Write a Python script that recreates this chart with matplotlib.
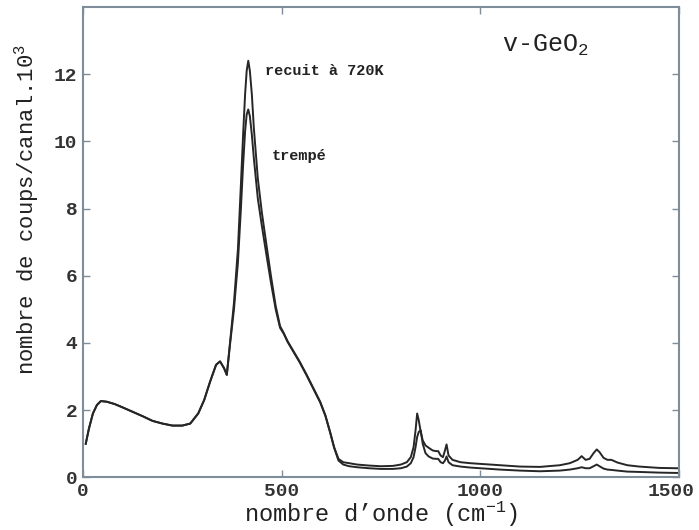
import matplotlib
matplotlib.use("Agg")
import matplotlib.pyplot as plt
from matplotlib.transforms import ScaledTranslation

wavenumber = [7, 15, 25, 35, 45, 60, 80, 100, 125, 150, 175, 200, 225, 250, 270, 290, 305, 320, 335, 345,
              355, 362, 370, 380, 390, 397, 403, 408, 412, 416, 420, 425, 430, 440, 450, 462, 473, 485, 496, 505,
              515, 530, 545, 563, 580, 597, 610, 622, 632, 643, 655, 670, 690, 720, 750, 780, 800, 815, 825, 832,
              837, 841, 845, 850, 855, 862, 870, 880, 888, 894, 900, 906, 911, 915, 920, 930, 950, 975, 1000, 1050,
              1100, 1150, 1200, 1225, 1245, 1255, 1265, 1275, 1285, 1293, 1300, 1310, 1320, 1330, 1345, 1370, 1400, 1450, 1495]

recuit = [1.0, 1.45, 1.9, 2.15, 2.27, 2.25, 2.18, 2.08, 1.95, 1.82, 1.68, 1.6, 1.54, 1.54, 1.6, 1.9, 2.3, 2.85, 3.35, 3.45,
          3.25, 3.05, 4.0, 5.2, 6.8, 8.6, 10.2, 11.4, 12.1, 12.4, 12.1, 11.4, 10.4, 8.9, 7.9, 6.9, 6.0, 5.1, 4.5, 4.3,
          4.05, 3.75, 3.45, 3.05, 2.65, 2.25, 1.85, 1.35, 0.9, 0.55, 0.45, 0.42, 0.38, 0.35, 0.33, 0.34, 0.38, 0.45, 0.6, 0.9,
          1.4, 1.9, 1.7, 1.35, 1.1, 0.95, 0.88, 0.8, 0.78, 0.78, 0.65, 0.6, 0.8, 0.98, 0.65, 0.52, 0.45, 0.42, 0.40, 0.36,
          0.32, 0.31, 0.36, 0.42, 0.52, 0.63, 0.52, 0.55, 0.72, 0.83, 0.75, 0.58, 0.52, 0.52, 0.44, 0.36, 0.32, 0.28, 0.27]

trempe = [1.0, 1.45, 1.9, 2.15, 2.27, 2.25, 2.18, 2.08, 1.95, 1.82, 1.68, 1.6, 1.54, 1.54, 1.6, 1.9, 2.3, 2.85, 3.35, 3.45,
          3.25, 3.05, 3.95, 5.0, 6.4, 7.9, 9.3, 10.3, 10.8, 10.95, 10.75, 10.2, 9.5, 8.3, 7.5, 6.6, 5.8, 5.0, 4.45, 4.28,
          4.03, 3.73, 3.43, 3.03, 2.63, 2.23, 1.83, 1.33, 0.88, 0.5, 0.38, 0.33, 0.3, 0.27, 0.25, 0.25, 0.27, 0.32, 0.42, 0.6,
          0.9, 1.2, 1.35, 1.4, 1.0, 0.72, 0.62, 0.56, 0.55, 0.55, 0.45, 0.42, 0.5, 0.62, 0.45, 0.36, 0.32, 0.29, 0.27, 0.23,
          0.2, 0.18, 0.2, 0.23, 0.27, 0.3, 0.27, 0.27, 0.33, 0.38, 0.33, 0.26, 0.23, 0.22, 0.2, 0.17, 0.16, 0.14, 0.13]

x_ticks = [0, 500, 1000, 1500]
y_ticks = [0, 2, 4, 6, 8, 10, 12]

plt.rcParams['mathtext.fontset'] = 'custom'
plt.rcParams['mathtext.rm'] = 'Liberation Mono'
plt.rcParams['mathtext.it'] = 'Liberation Mono'

mono = ['Liberation Mono', 'DejaVu Sans Mono']
fig = plt.figure(figsize=(6.99, 5.30), dpi=100)
ax = fig.add_axes([0.1187, 0.0994, 0.8527, 0.8874])

line_color = '#262626'
ax.plot(wavenumber, recuit, color=line_color, lw=1.4)
ax.plot(wavenumber, trempe, color=line_color, lw=1.4)

ax.set_xlim(0, 1500)
ax.set_ylim(0, 14.0)
ax.set_xticks(x_ticks)
ax.set_yticks(y_ticks)
ax.tick_params(direction='in', top=True, right=True, length=5, width=1, color='#7f8c99',
               labelsize=14, pad=4)
for lab in ax.get_xticklabels() + ax.get_yticklabels():
    lab.set_family(mono)
    lab.set_fontweight('bold')
    lab.set_color('#333333')
last = ax.get_xticklabels()[-1]
last.set_transform(last.get_transform() + ScaledTranslation(-6 / 72, 0, fig.dpi_scale_trans))
for s in ax.spines.values():
    s.set_color('#7f8c99')
    s.set_linewidth(1.5)

ax.set_xlabel("nombre d\u2019onde (cm$^{-1}$)", family=mono, fontsize=17, color='#222222', labelpad=0)
fig.text(27 / 699, 1 - 210 / 530, "nombre de coups/canal.10$^{3}$", family=mono, fontsize=16,
         color='#222222', rotation=90, ha='center', va='center')

ax.text(458, 12.1, "recuit \u00e0 720K", family=mono, fontsize=11, fontweight='bold', color='#222222', va='center')
ax.text(476, 9.57, "tremp\u00e9", family=mono, fontsize=11, fontweight='bold', color='#222222', va='center')
ax.text(1163, 12.85, "v-GeO$_2$", family=mono, fontsize=18, color='#222222', va='center', ha='center')

fig.savefig("out.png", dpi=100)
